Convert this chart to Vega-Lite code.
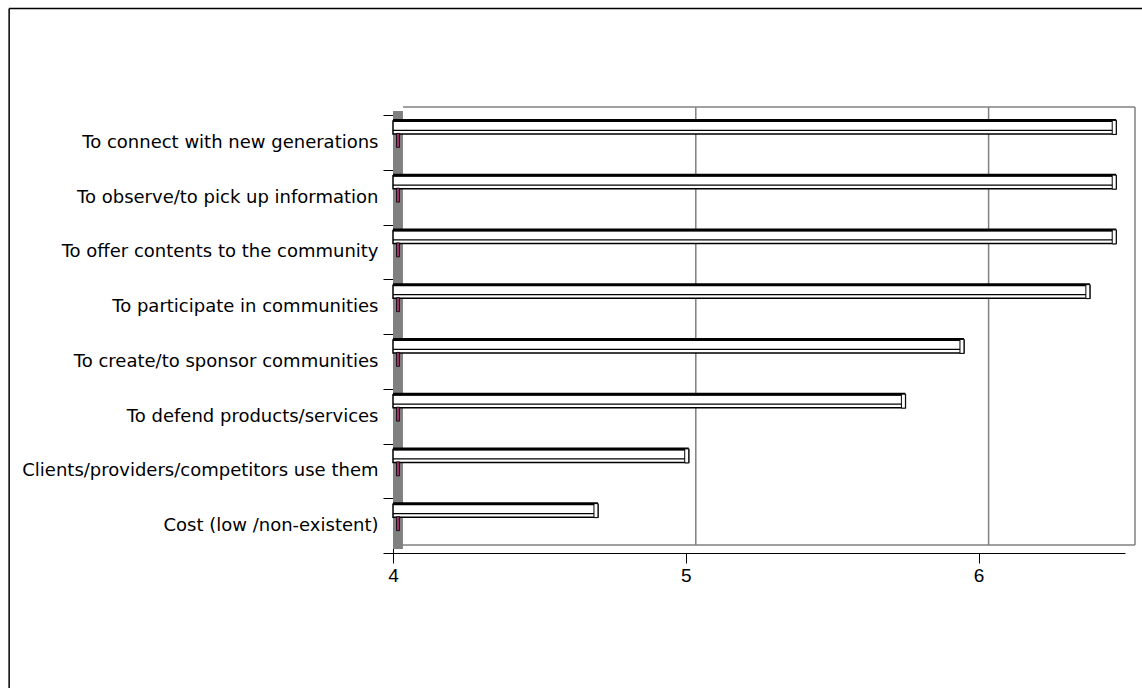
{
  "$schema": "https://vega.github.io/schema/vega-lite/v6.json",
  "width": 732,
  "height": 438,
  "autosize": "none",
  "padding": {"left": 393, "top": 115, "right": 17, "bottom": 135},
  "background": "white",
  "config": {
    "view": {"stroke": null},
    "font": "Liberation Sans",
    "axisX": {"title": null, "grid": false, "tickSize": 10, "labelFont": "Liberation Sans", "labelFontSize": 19, "labelColor": "black", "domainColor": "black", "tickColor": "black", "labelPadding": 3, "labelFlush": false, "tickCount": 3}
  },
  "datasets": {
    "bars": [
      {"label": "To connect with new generations", "value": 6.47},
      {"label": "To observe/to pick up information", "value": 6.47},
      {"label": "To offer contents to the community", "value": 6.47},
      {"label": "To participate in communities", "value": 6.38},
      {"label": "To create/to sponsor communities", "value": 5.95},
      {"label": "To defend products/services", "value": 5.75},
      {"label": "Clients/providers/competitors use them", "value": 5.01},
      {"label": "Cost (low /non-existent)", "value": 4.7}
    ],
    "frame": [
      {"x": 4, "x2": 6.5, "y": 1, "y2": 1},
      {"x": 4, "x2": 6.5, "y": 0, "y2": 0},
      {"x": 5, "x2": 5, "y": 0, "y2": 1},
      {"x": 6, "x2": 6, "y": 0, "y2": 1},
      {"x": 6.5, "x2": 6.5, "y": 0, "y2": 1}
    ],
    "border": [
      {"x": 2.689, "x2": 6.6, "y": 1.2432, "y2": 1.2432},
      {"x": 2.689, "x2": 2.689, "y": 1.2432, "y2": -0.35}
    ]
  },
  "resolve": {"scale": {"y": "independent"}},
  "layer": [
    {
      "data": {"values": [{"wall": "left"}]},
      "mark": {"type": "rect", "fill": "#808080", "yOffset": -4, "y2Offset": -4},
      "encoding": {
        "x": {"datum": 4, "type": "quantitative", "scale": {"domain": [4, 6.5], "nice": false, "zero": false}, "axis": {"values": [4, 5, 6], "labelFontSize": 19, "title": null}},
        "x2": {"datum": 4.034},
        "y": {"datum": 0, "type": "quantitative", "scale": {"domain": [0, 1], "nice": false, "zero": false}, "axis": null},
        "y2": {"datum": 1}
      }
    },
    {
      "data": {"name": "frame"},
      "mark": {"type": "rule", "color": "#808080", "strokeWidth": 1.5, "xOffset": 10, "x2Offset": 10, "yOffset": -8, "y2Offset": -8},
      "encoding": {
        "x": {"field": "x", "type": "quantitative", "scale": {"domain": [4, 6.5], "nice": false, "zero": false}, "axis": {"values": [4, 5, 6], "labelFontSize": 19, "title": null}},
        "x2": {"field": "x2"},
        "y": {"field": "y", "type": "quantitative", "scale": {"domain": [0, 1], "nice": false, "zero": false}, "axis": null},
        "y2": {"field": "y2"}
      }
    },
    {
      "data": {"name": "bars"},
      "encoding": {
        "y": {
          "field": "label", "type": "nominal", "sort": null,
          "scale": {"paddingInner": 0, "paddingOuter": 0},
          "axis": {"title": null, "grid": false, "tickSize": 10, "labelFont": "DejaVu Sans", "labelFontSize": 18, "labelColor": "black", "domainColor": "black", "tickColor": "black", "labelPadding": 5, "labelLimit": 500, "tickBand": "extent"}
        },
        "x": {"field": "value", "type": "quantitative", "scale": {"domain": [4, 6.5], "nice": false, "zero": false}, "axis": {"values": [4, 5, 6], "labelFontSize": 19, "title": null}}
      },
      "layer": [
        {
          "mark": {"type": "bar", "size": 13, "yOffset": -15, "fill": "white", "stroke": "black", "strokeWidth": 1.5},
          "encoding": {"x2": {"datum": 4}}
        },
        {
          "mark": {"type": "rule", "yOffset": -22, "strokeWidth": 3, "color": "black"},
          "encoding": {"x2": {"datum": 4}}
        },
        {
          "mark": {"type": "rule", "yOffset": -12, "strokeWidth": 1.2, "color": "black"},
          "encoding": {"x2": {"datum": 4}}
        },
        {
          "mark": {"type": "tick", "orient": "vertical", "size": 14, "thickness": 4, "xOffset": -2, "yOffset": -15, "fill": "white", "stroke": "black", "strokeWidth": 1, "opacity": 1},
          "encoding": {}
        },
        {
          "mark": {"type": "tick", "orient": "vertical", "size": 14, "thickness": 3, "xOffset": 5, "yOffset": -2, "fill": "#993366", "stroke": "black", "strokeWidth": 0.8, "opacity": 1},
          "encoding": {
            "x": {"datum": 4, "type": "quantitative", "scale": {"domain": [4, 6.5], "nice": false, "zero": false}, "axis": {"values": [4, 5, 6], "labelFontSize": 19, "title": null}}
          }
        }
      ]
    },
    {
      "data": {"name": "border"},
      "mark": {"type": "rule", "color": "black", "strokeWidth": 1.5},
      "encoding": {
        "x": {"field": "x", "type": "quantitative", "scale": {"domain": [4, 6.5], "nice": false, "zero": false}, "axis": {"values": [4, 5, 6], "labelFontSize": 19, "title": null}},
        "x2": {"field": "x2"},
        "y": {"field": "y", "type": "quantitative", "scale": {"domain": [0, 1], "nice": false, "zero": false}, "axis": null},
        "y2": {"field": "y2"}
      }
    }
  ]
}
